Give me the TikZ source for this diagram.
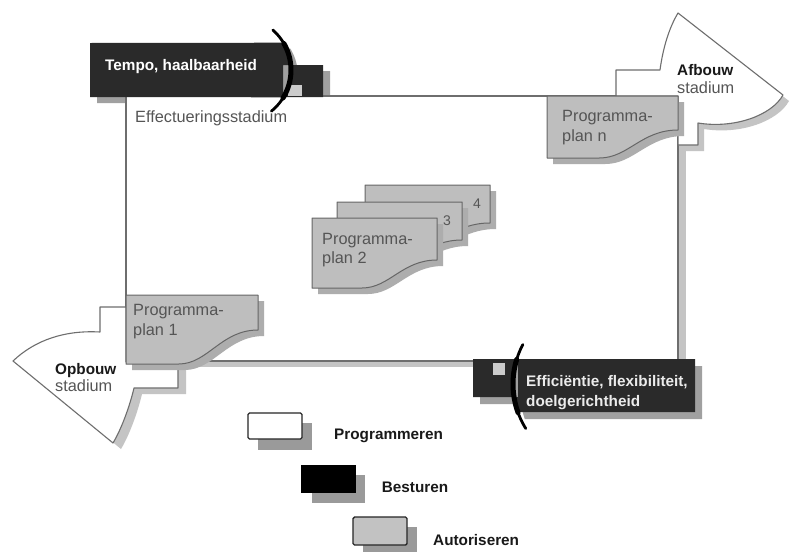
\documentclass[tikz,border=0pt]{standalone}
\usepackage{fontspec}
\setmainfont{Liberation Sans}
\definecolor{edgegray}{HTML}{6E6E6E}
\definecolor{lightshadow}{HTML}{C4C4C4}
\definecolor{planfill}{HTML}{BEBEBE}
\definecolor{planedge}{HTML}{666666}
\definecolor{planshadow}{HTML}{ADADAD}
\definecolor{boxdark}{HTML}{2A2A2A}
\definecolor{boxshadow}{HTML}{A0A0A0}
\definecolor{txtgray}{HTML}{555555}
\definecolor{legshadow}{HTML}{9A9A9A}
% plan sheet: x, y, width, left height, right height
\newcommand{\planpath}[5]{(#1,#2) -- (#1+#3,#2) -- (#1+#3,#2+#5)
  .. controls (#1+0.72*#3,#2+#5) and (#1+0.62*#3,#2+#4) .. (#1+0.4*#3,#2+#4)
  -- (#1,#2+#4) -- cycle}
\newcommand{\afbouwpath}{(616,96) -- (616,70) -- (660,70)
  .. controls (663,48) and (669,28) .. (678,13) -- (783,95)
  .. controls (772,115) and (735,129) .. (698,123) -- (698,145) -- (678,145)
  -- (678,96) -- cycle}
\newcommand{\opbouwpath}{(126,307) -- (100,307) -- (100,332)
  .. controls (65,330) and (35,340) .. (13,361) -- (113,443)
  .. controls (122,428) and (130,405) .. (134,388) -- (178,388) -- (178,362)
  -- (126,362) -- cycle}
\newcommand{\tempopath}{(90,43) -- plot[domain=-31:31, samples=25]
  ({238+53*cos(\x)},{70+53*sin(\x)}) -- (90,97) -- cycle
  (283,65) rectangle (323,97)}
\newcommand{\effpath}{(695,412) -- plot[domain=160.5:197.3, samples=25]
  ({597+84*cos(\x)},{384+84*sin(\x)}) -- (695,359) -- cycle
  (473,359) rectangle (518,397)}
\begin{document}
\begin{tikzpicture}[x=1pt,y=-1pt,
  edge/.style={draw=edgegray, line width=1.1pt, line join=round},
  sheet/.style={fill=planfill, draw=planedge, line width=1pt, line join=round},
  sheetshadow/.style={fill=planshadow, shift={(6,6)}},
  thinstroke/.style={draw=black, line width=2.8pt, line cap=round},
  thickstroke/.style={draw=black, line width=5pt, line cap=round},
  lbl/.style={inner sep=0pt, anchor=base west, text=txtgray,
    font=\fontsize{16.3}{19}\selectfont},
  boldlbl/.style={inner sep=0pt, anchor=base west, text=black!90,
    font=\fontsize{15.3}{18}\selectfont\bfseries},
  legbox/.style={draw=black!85, line width=1.4pt, rounded corners=1.5pt},
  legshade/.style={fill=legshadow}]
\useasboundingbox (0,0) rectangle (793,552);
\fill[white] (0,0) rectangle (793,552);

% shadows under the frame, the stage wedges and the upper dark bar
\fill[boxshadow, shift={(7,6)}] \tempopath;
\fill[lightshadow] (132,101) rectangle (686,367);
\fill[lightshadow, shift={(6,6)}] \afbouwpath;
\fill[lightshadow, shift={(8,6)}] \opbouwpath;

% main frame
\fill[white] (126,96) rectangle (678,361);
\draw[edge] (126,96) rectangle (678,361);

% stage wedges
\path[edge, fill=white] \afbouwpath;
\path[edge, fill=white] \opbouwpath;

% programme plan sheets
\fill[sheetshadow] \planpath{547}{96}{131}{62}{34};
\path[sheet] \planpath{547}{96}{131}{62}{34};
\fill[sheetshadow] \planpath{126}{295}{132}{69}{35};
\path[sheet] \planpath{126}{295}{132}{69}{35};
\fill[sheetshadow] \planpath{365}{185}{125}{60}{38};
\path[sheet] \planpath{365}{185}{125}{60}{38};
\fill[sheetshadow] \planpath{337}{202}{125}{62}{38};
\path[sheet] \planpath{337}{202}{125}{62}{38};
\fill[sheetshadow] \planpath{312}{218}{125}{70}{42};
\path[sheet] \planpath{312}{218}{125}{70}{42};

% dark bars with their brush arcs
\fill[boxdark] \tempopath;
\fill[black!20] (288,85) rectangle (302,96);
\draw[thinstroke] plot[domain=-49:51, samples=30] ({238+53*cos(\x)},{70+53*sin(\x)});
\draw[thickstroke] plot[domain=-30:32, samples=20] ({238+53*cos(\x)},{70+53*sin(\x)});

\fill[boxshadow, shift={(7,7)}] \effpath;
\fill[boxdark] \effpath;
\fill[black!20] (493,363) rectangle (505,375);
\draw[thinstroke] plot[domain=148:208, samples=30] ({597+84*cos(\x)},{384+84*sin(\x)});
\draw[thickstroke] plot[domain=160:197, samples=20] ({597+84*cos(\x)},{384+84*sin(\x)});

% labels
\node[boldlbl, text=white] (tempo) at (105,70.5) {Tempo, haalbaarheid};
\node[lbl] (effect) at (135,122.5) {Effectueringsstadium};
\node[boldlbl] (afbouw) at (677,75) {Afbouw};
\node[lbl] (afstad) at (677,93.5) {stadium};
\node[lbl] (plann1) at (562,121.5) {Programma-};
\node[lbl] (plann2) at (562,141.5) {plan n};
\node[boldlbl] (opbouw) at (55,374) {Opbouw};
\node[lbl] (opstad) at (55,391.5) {stadium};
\node[lbl] (plana1) at (133,315.5) {Programma-};
\node[lbl] (plana2) at (133,335) {plan 1};
\node[lbl] (planb1) at (322,244) {Programma-};
\node[lbl] (planb2) at (322,263.5) {plan 2};
\node[lbl, font=\fontsize{14}{16}\selectfont] (three) at (443,225) {3};
\node[lbl, font=\fontsize{14}{16}\selectfont] (four) at (473,208) {4};
\node[boldlbl, text=black!8] (eff1) at (526,386) {Efficiëntie, flexibiliteit,};
\node[boldlbl, text=black!8] (eff2) at (526,406) {doelgerichtheid};

% legend
\fill[legshade] (258,423) rectangle (312,450);
\path[legbox, fill=white] (248,413) rectangle (302,439);
\node[boldlbl] (legprog) at (334,439.5) {Programmeren};
\fill[legshade] (312,475) rectangle (365,503);
\fill[black] (301,465) rectangle (356,493);
\node[boldlbl] (legbest) at (381.7,492.7) {Besturen};
\fill[legshade] (363,527) rectangle (417,552);
\path[legbox, fill=black!24] (353,517) rectangle (407,545);
\node[boldlbl] (legaut) at (433,545) {Autoriseren};
\end{tikzpicture}
\end{document}
